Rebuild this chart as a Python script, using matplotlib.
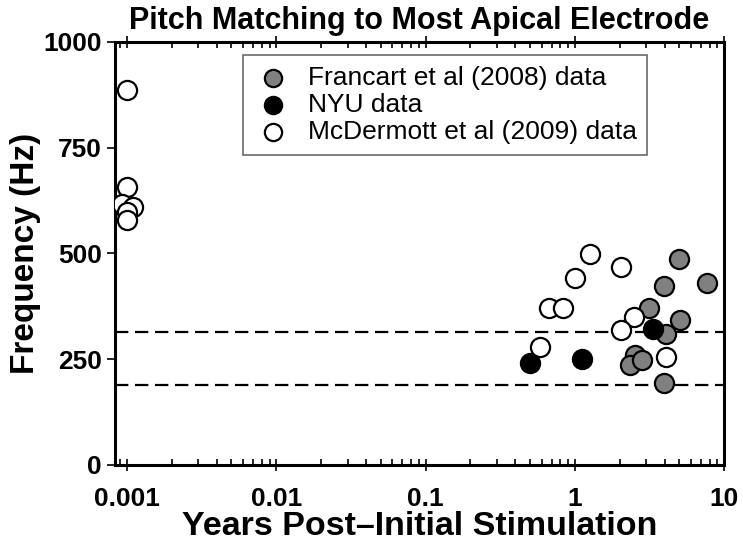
import matplotlib.pyplot as plt
from matplotlib.ticker import LogLocator, NullFormatter

# Francart et al (2008)
francart_x = [5.02, 7.69, 3.96, 3.15, 5.07, 4.07, 2.55, 2.36, 2.82, 3.96]
francart_y = [487, 431, 423, 371, 343, 309, 259, 237, 248, 194]

# NYU
nyu_x = [0.50, 1.125, 3.34]
nyu_y = [240, 251, 321]

# McDermott et al (2009)
mcd_x = [0.001, 0.001, 0.00092, 0.0011, 0.001, 0.001,
         1.26, 1.01, 2.04, 0.67, 0.83, 2.48, 2.04, 0.58, 4.07]
mcd_y = [886, 658, 616, 609, 597, 578,
         498, 441, 467, 372, 372, 349, 319, 279, 255]

dashed_levels = [314, 189]

plt.rcParams['font.family'] = ['Liberation Sans', 'DejaVu Sans']

fig = plt.figure(figsize=(7.43, 5.51), dpi=100)
ax = fig.add_axes([0.1548, 0.1561, 0.8197, 0.7677])

for lvl in dashed_levels:
    ax.axhline(lvl, color='black', linestyle=(0, (6, 3)), linewidth=1.6, zorder=1)

ms = 190
ax.scatter(francart_x, francart_y, s=ms, facecolor='#808080', edgecolor='black',
           linewidth=1.6, label='Francart et al (2008) data', zorder=3)
ax.scatter(nyu_x, nyu_y, s=ms, facecolor='black', edgecolor='black',
           linewidth=1.6, label='NYU data', zorder=3)
ax.scatter(mcd_x, mcd_y, s=ms, facecolor='white', edgecolor='black',
           linewidth=1.6, label='McDermott et al (2009) data', zorder=3)

ax.set_xscale('log')
ax.set_xlim(0.00083, 10)
ax.set_ylim(0, 1000)

ax.set_xticks([0.001, 0.01, 0.1, 1, 10])
ax.set_xticklabels(['0.001', '0.01', '0.1', '1', '10'])
ax.xaxis.set_minor_locator(LogLocator(base=10, subs=range(2, 10)))
ax.xaxis.set_minor_formatter(NullFormatter())
ax.set_yticks([0, 250, 500, 750, 1000])

ax.tick_params(axis='x', which='both', top=True, bottom=True, width=1.2)
ax.tick_params(axis='x', which='major', direction='inout', length=8, pad=12)
ax.tick_params(axis='x', which='minor', direction='in', length=4)
ax.tick_params(axis='y', which='major', direction='out', length=6, width=1.2, right=False)
ax.tick_params(axis='both', labelsize=19)
for lab in ax.get_xticklabels() + ax.get_yticklabels():
    lab.set_fontweight('bold')

for sp in ax.spines.values():
    sp.set_linewidth(2.2)

ax.set_xlabel('Years Post\u2013Initial Stimulation', fontsize=24.5, fontweight='bold', labelpad=0)
ax.set_ylabel('Frequency (Hz)', fontsize=24, fontweight='bold', labelpad=2)
ax.set_title('Pitch Matching to Most Apical Electrode', fontsize=22, fontweight='bold', pad=9)

leg = ax.legend(loc='upper left', bbox_to_anchor=(0.21, 0.969), fontsize=19,
                frameon=True, fancybox=False, edgecolor='#444444',
                handletextpad=0.55, borderpad=0.4, labelspacing=0.12,
                markerscale=0.9, handlelength=1.5, borderaxespad=0)
leg.get_frame().set_linewidth(1.2)

fig.savefig('out.png', dpi=100)
